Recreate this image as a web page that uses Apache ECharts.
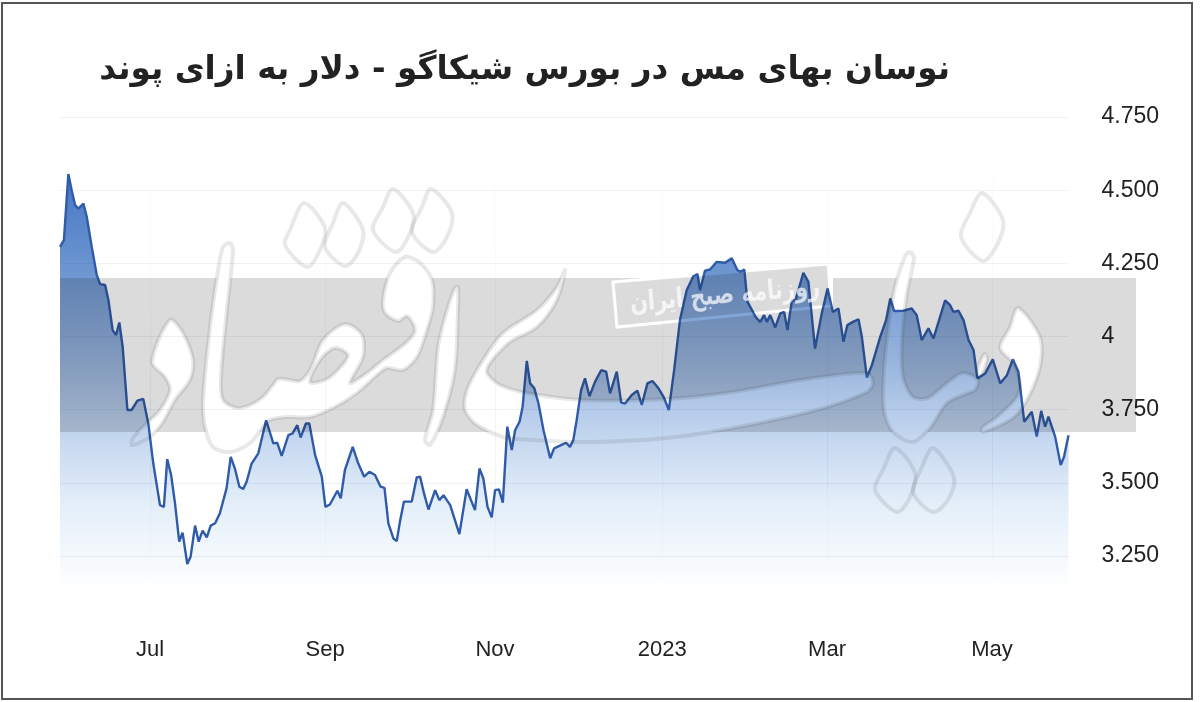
<!DOCTYPE html>
<html><head><meta charset="utf-8">
<style>html,body{margin:0;padding:0;background:#fff}#c{width:1200px;height:702px}</style>
<script src="https://cdn.jsdelivr.net/npm/echarts@6/dist/echarts.min.js"></script>
</head><body><div id="c"></div>
<script>
const titleText = 'نوسان بهای مس در بورس شیکاگو - دلار به ازای پوند';
const stampText = 'روزنامه صبح ایران';
// days since 2022-05-30
const days = [0,1.4,3,4.2,5.4,6.6,8.4,9.6,11.4,13.2,14.4,16.2,17.4,18.9,20.1,21.3,22.5,24.2,25.7,27.8,29.9,31.7,33.5,35.9,37.3,38.5,39.9,41.3,42.8,44,45.7,46.9,48.5,49.8,51.2,52.7,54.1,55.7,57.4,59.8,61.3,62.8,64.4,65.8,67,68.8,71.2,74,76.6,78,79.6,82,83.5,85.2,86.4,88.3,89.5,91.6,94,95.3,96.9,99.6,100.8,102.3,105.1,107.1,109.2,111.1,113.1,115.1,116.5,117.9,119.7,120.9,122.1,123.5,126.3,128.1,129.3,130.7,132.3,134.7,136.2,137.7,140.1,141.8,143.4,146,149,150.6,152,153.5,155,156.2,157.6,159,160.6,162.2,163.4,165,166.1,167.6,168.8,170.3,171.8,173.6,176,177.4,179.5,181.7,183.1,184.3,185.5,187.1,188.5,190.1,192.1,194.3,196.1,197.5,199.9,201.5,202.9,205.3,207.3,208.9,210.9,212.7,214.9,216.7,218.6,220.5,222.6,225,227.4,228.9,229.8,231.6,233.4,235.8,238.8,241.2,243.2,244.2,245.7,246.8,249.9,251.4,252.8,253.8,255,256.8,258.6,260,261.2,262.8,264,266.9,268.7,271.1,273.5,275.6,277.5,279.5,281.3,282.7,284.7,286.7,287.9,289.7,291.5,294.5,296.6,298.1,299.5,302.8,305.8,307.6,309.4,311.8,313.6,317.8,319.6,320.8,322.6,324.4,326.2,328,329.4,332.2,334.9,337.6,340,342.1,344.1,346.2,348.9,350.7,352.3,353.7,354.9,357.3,359.3,360.5,362.1];
const prices = [4.306,4.329,4.555,4.5,4.449,4.437,4.454,4.409,4.306,4.21,4.179,4.176,4.124,4.022,4.005,4.048,3.965,3.749,3.749,3.781,3.787,3.703,3.566,3.424,3.418,3.581,3.527,3.43,3.299,3.33,3.223,3.248,3.354,3.299,3.337,3.314,3.354,3.362,3.396,3.481,3.589,3.549,3.487,3.479,3.504,3.566,3.601,3.714,3.635,3.637,3.592,3.663,3.669,3.697,3.655,3.703,3.703,3.595,3.521,3.418,3.426,3.473,3.447,3.544,3.623,3.566,3.521,3.538,3.527,3.487,3.483,3.362,3.31,3.301,3.37,3.436,3.436,3.519,3.521,3.464,3.409,3.475,3.441,3.458,3.424,3.373,3.325,3.478,3.407,3.549,3.515,3.418,3.382,3.475,3.478,3.432,3.692,3.612,3.68,3.709,3.76,3.917,3.84,3.823,3.771,3.68,3.584,3.618,3.627,3.637,3.623,3.646,3.714,3.817,3.857,3.796,3.845,3.885,3.88,3.806,3.88,3.774,3.771,3.8,3.815,3.766,3.84,3.848,3.823,3.794,3.749,3.885,4.056,4.158,4.206,4.213,4.158,4.225,4.229,4.255,4.252,4.267,4.227,4.221,4.229,4.119,4.065,4.05,4.073,4.05,4.073,4.031,4.079,4.084,4.022,4.124,4.122,4.218,4.187,3.959,4.079,4.164,4.084,4.096,3.982,4.039,4.05,4.059,3.999,3.86,3.902,3.999,4.056,4.13,4.087,4.088,4.096,4.073,3.988,4.028,3.993,4.124,4.107,4.084,4.088,4.056,3.988,3.954,3.857,3.874,3.922,3.84,3.868,3.922,3.88,3.709,3.743,3.658,3.746,3.692,3.726,3.658,3.561,3.589,3.663];
const xTicks = [32.3,95.2,156.2,216.2,275.4,334.6];
const xTickLabels = ['Jul','Sep','Nov','2023','Mar','May'];
const yTicks = [3.25,3.5,3.75,4,4.25,4.5,4.75];
const yTickLabels = ['3.250','3.500','3.750','4','4.250','4.500','4.750'];

// background watermark artwork (logo, not chart data)
const logoCuts = [
 [[152,362],[170,320],[183,333],[193,360],[190,380],[175,400],[163,422],[150,437],[132,445],[133,438],[147,423],[160,410],[170,390],[165,377]],
 [[405,257],[420,263],[432,280],[433,307],[427,330],[417,357],[403,370],[387,368],[377,375],[357,393],[333,408],[310,417],[287,417],[270,420],[263,427],[250,443],[230,452],[213,447],[205,427],[203,400],[210,327],[217,277],[223,247],[230,243],[233,250],[227,310],[221,377],[223,400],[237,408],[250,405],[263,397],[273,385],[278,379],[290,380],[300,381],[310,370],[323,340],[345,324],[362,335],[363,357],[350,383],[367,373],[383,360],[407,342],[415,330],[407,316],[398,321],[385,313],[383,300],[390,273]],
 [[458,287],[458,310],[455,370],[443,417],[430,445],[425,440],[433,410],[438,347],[447,310],[455,288]],
 [[565,270],[557,300],[537,327],[510,342],[490,363],[487,373],[500,385],[527,393],[583,400],[667,399],[733,392],[800,380],[867,373],[873,383],[867,392],[817,410],[733,428],[667,438],[583,442],[517,439],[503,437],[477,425],[465,410],[467,390],[483,360],[503,333],[537,310],[557,287]],
 [[910,252],[914,258],[907,293],[902,340],[903,377],[913,397],[928,398],[947,383],[963,373],[978,380],[975,390],[968,393],[947,403],[930,428],[913,442],[893,432],[884,410],[884,370],[888,330],[895,287],[905,256]],
 [[985,354],[987,360],[980,377],[977,372],[982,358]],
 [[1018,308],[1040,337],[1040,367],[1027,400],[1013,418],[983,432],[982,428],[997,417],[1017,397],[1020,383],[1013,363],[1000,348],[1010,327]]
];
const logoIsland = [[310,382],[320,360],[335,348],[348,355],[338,370],[325,380]];
const logoDots = [
 [[304,203],[325,228],[320,250],[307,267],[285,245],[290,230]],
 [[343,203],[363,230],[358,253],[345,266],[325,247],[333,223]],
 [[393,189],[413,213],[410,233],[396,252],[373,230],[383,207]],
 [[431,189],[452,213],[447,237],[433,252],[412,232],[422,207]],
 [[982,193],[1003,220],[998,243],[983,261],[961,237],[970,213]],
 [[895,448],[915,473],[910,497],[897,512],[875,490],[883,470]],
 [[933,448],[954,478],[948,500],[933,512],[913,492],[922,467]]
];
const stampBox = [[613,282],[828,264],[831,306],[617,327]];
const stampTop = [[661,278],[828,264],[829,278]];
const stampGap = [[828,278],[833,278],[833,307],[830,307]];

const BAND = 'rgba(0,0,0,0.14)', OUT = 'rgba(50,50,50,0.11)';
const poly = (pts,z,style,smooth) => ({type:'polygon',zlevel:1,z,silent:true,shape:{points:pts,smooth:smooth||0},style});
const logo = [
  {type:'rect',zlevel:1,z:1,shape:{x:60,y:278,width:1076,height:154},style:{fill:BAND}},
  poly(stampTop,1,{fill:BAND}),
  poly(stampGap,2,{fill:'#000',blend:'destination-out'}),
  poly(stampBox,2,{fill:'none',stroke:'#000',lineWidth:3,blend:'destination-out'}),
  ...logoCuts.map(p=>poly(p,2,{fill:'#000',blend:'destination-out'},0.3)),
  poly(logoIsland,3,{fill:BAND},0.3),
  ...logoCuts.map(p=>poly(p,4,{fill:'none',stroke:OUT,lineWidth:4,lineJoin:'round'},0.3)),
  poly(logoIsland,4,{fill:'none',stroke:OUT,lineWidth:4},0.3),
  ...logoDots.map(p=>poly(p,4,{fill:'none',stroke:OUT,lineWidth:4,lineJoin:'round'},0.3)),
  {type:'text',zlevel:1,z:5,x:725,y:296,rotation:0.085,scaleY:1.3,silent:true,style:{text:stampText,font:'bold 21px "DejaVu Sans"',fill:'rgba(255,255,255,0.7)',align:'center',verticalAlign:'middle'}}
];

const chart = echarts.init(document.getElementById('c'), null, {renderer:'canvas'});
const vFade = {type:'linear',global:true,x:0,y:117,x2:0,y2:590,colorStops:[{offset:0,color:'rgba(40,80,150,0)'},{offset:.7,color:'rgba(40,80,150,0.07)'},{offset:1,color:'rgba(40,80,150,0)'}]};
chart.setOption({
  animation:false,
  backgroundColor:'#ffffff',
  title:{text:titleText,right:245,top:49,textStyle:{fontFamily:'DejaVu Sans',fontWeight:'bold',fontSize:32.7,color:'#222222'}},
  grid:{left:60,right:131.5,top:117,bottom:112},
  xAxis:{type:'value',min:0,max:362.1,z:5,
    axisLine:{show:false},
    axisTick:{show:false,customValues:xTicks},
    splitLine:{show:true,lineStyle:{color:vFade,width:1}},
    axisLabel:{customValues:xTicks,margin:49,fontFamily:'Liberation Sans',fontSize:22,color:'#222222',hideOverlap:false,showMinLabel:true,showMaxLabel:true,
      formatter:v=>xTickLabels[xTicks.indexOf(v)]}},
  yAxis:{type:'value',position:'right',min:3.134,max:4.75,z:5,
    axisLine:{show:false},
    axisTick:{show:false,customValues:yTicks},
    splitLine:{show:true,lineStyle:{color:'rgba(40,80,150,0.08)',width:1}},
    axisLabel:{customValues:yTicks,margin:33,align:'left',verticalAlign:'middle',padding:[0,0,4,0],fontFamily:'Liberation Sans',fontSize:23,color:'#222222',
      formatter:v=>yTickLabels[yTicks.indexOf(v)]}},
  series:[{type:'line',data:days.map((d,i)=>[d,prices[i]]),symbol:'none',smooth:false,z:3,
    lineStyle:{color:'#2f5ba8',width:2.4},
    areaStyle:{opacity:1,color:{type:'linear',global:true,x:0,y:174,x2:0,y2:590,colorStops:[
      {offset:0,color:'#4576c4'},{offset:.25,color:'#7098d2'},{offset:.45,color:'#98b4dc'},{offset:.64,color:'#c6d8f0'},{offset:.8,color:'#e4eff9'},{offset:1,color:'#ffffff'}]}}}],
  graphic:[
    {type:'rect',z:1,silent:true,shape:{x:2,y:3,width:1190,height:696},style:{fill:'none',stroke:'#555555',lineWidth:2}},
    ...logo
  ]
});
</script></body></html>
